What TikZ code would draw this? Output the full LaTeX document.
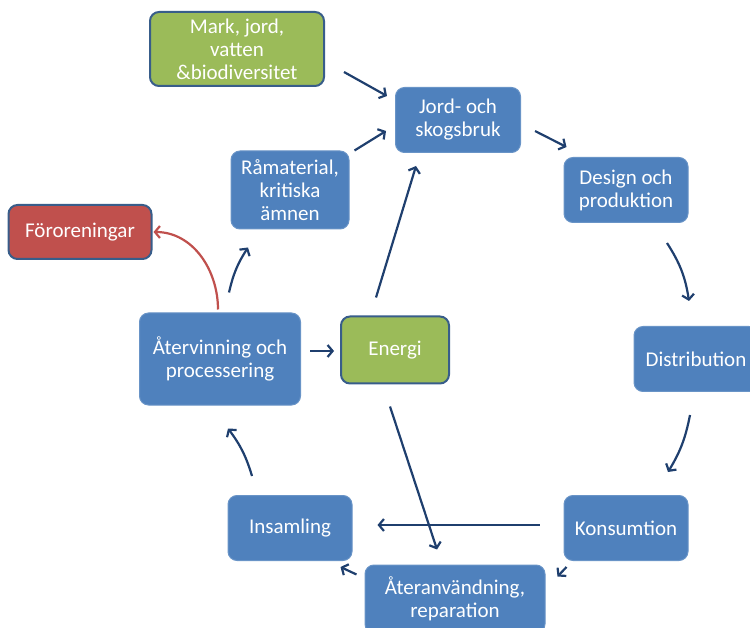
\documentclass[tikz,border=0pt]{standalone}
\usepackage{fontspec}
\setmainfont{Carlito}
\usetikzlibrary{arrows.meta}
\definecolor{boxblue}{HTML}{4F81BD}
\definecolor{boxgreen}{HTML}{9BBB59}
\definecolor{boxred}{HTML}{C0504D}
\definecolor{edgeblue}{HTML}{385D8A}
\definecolor{arrownavy}{HTML}{1F3F6E}
\begin{document}
\begin{tikzpicture}[x=1pt,y=-1pt,
  box/.style={rounded corners=9pt, text=white, align=center, inner sep=0pt,
    font=\fontsize{21}{23}\selectfont},
  bluebox/.style={box, fill=boxblue, draw=boxblue!85!white, line width=1pt},
  greenbox/.style={box, fill=boxgreen, draw=edgeblue, line width=2pt},
  redbox/.style={box, fill=boxred, draw=edgeblue, line width=2pt},
  flow/.style={draw=arrownavy, line width=2.2pt, -{Straight Barb[length=5pt,width=12pt]}},
  redflow/.style={draw=boxred, line width=2.2pt, -{Straight Barb[length=5pt,width=12pt]}}]
\useasboundingbox (0,0) rectangle (750,628);

\node[greenbox, minimum width=174pt, minimum height=74pt] (mark) at (237,49)
  {Mark, jord,\\vatten\\\&biodiversitet};
\node[bluebox, minimum width=125pt, minimum height=65pt] (jord) at (458,120)
  {Jord- och\\skogsbruk};
\node[bluebox, minimum width=118pt, minimum height=78pt] (ram) at (290,190)
  {Råmaterial,\\kritiska\\ämnen};
\node[redbox, minimum width=143pt, minimum height=54pt] (foror) at (80,232)
  {Föroreningar};
\node[bluebox, minimum width=161pt, minimum height=92pt] (aterv) at (220,359)
  {Återvinning och\\processering};
\node[greenbox, minimum width=108pt, minimum height=67pt] (energi) at (395,350)
  {Energi};
\node[bluebox, minimum width=124pt, minimum height=65pt] (design) at (626,190)
  {Design och\\produktion};
\node[bluebox, minimum width=124pt, minimum height=65pt] (dist) at (696,359)
  {Distribution};
\node[bluebox, minimum width=124pt, minimum height=65pt] (kons) at (626,528)
  {Konsumtion};
\node[bluebox, minimum width=124pt, minimum height=65pt] (ins) at (290,528)
  {Insamling};
\node[bluebox, minimum width=180pt, minimum height=68pt] (ater) at (455,599)
  {Återanvändning,\\reparation};

\draw[flow] ([shift={(19,23)}]mark.east) -- ([shift={(-8,-24)}]jord.west);
\draw[flow] ([shift={(5,0)}]ram.north east) -- ([shift={(-9,11)}]jord.west);
\draw[flow] ([shift={(-19,-18)}]energi.north) -- ([shift={(-42,13)}]jord.south);
\draw[flow] ([shift={(14,11)}]jord.east) -- ([shift={(3,-10)}]design.north west);
\draw[flow] ([shift={(41,20)}]design.south) to[bend left=12] ([shift={(-7,-25)}]dist.north);
\draw[flow] ([shift={(-6,23)}]dist.south) to[bend left=10] ([shift={(42,-23)}]kons.north);
\draw[flow] ([shift={(-24,-3)}]kons.west) -- ([shift={(25,-3)}]ins.east);
\draw[flow] ([shift={(-5,22)}]energi.south) -- ([shift={(-18,-15)}]ater.north);
\draw[flow] ([shift={(3,6)}]kons.south west) -- ([shift={(12,12)}]ater.north east);
\draw[flow] ([shift={(-8,10)}]ater.north west) -- ([shift={(-12,6)}]ins.south east);
\draw[flow] ([shift={(-38,-19)}]ins.north) to[bend right=10] ([shift={(8,23)}]aterv.south);
\draw[flow] ([shift={(9,-20)}]aterv.north) to[bend left=10] ([shift={(-42,18)}]ram.south);
\draw[flow] ([shift={(9,-8)}]aterv.east) -- ([shift={(-6,1)}]energi.west);
\draw[redflow] ([shift={(-2,-3)}]aterv.north) to[out=90,in=0] ([shift={(1,0)}]foror.east);
\end{tikzpicture}
\end{document}
